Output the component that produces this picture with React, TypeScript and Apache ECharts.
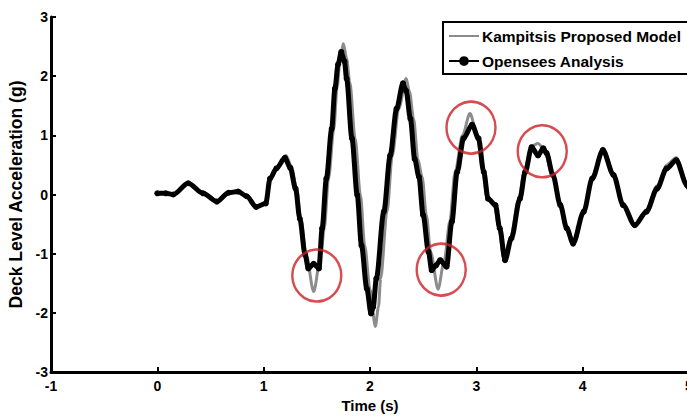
import React, { useEffect, useRef } from "react";
import * as echarts from "echarts";

// Opensees Analysis (black, dotted markers)
const timeOpensees = [
  0, 0.08, 0.15, 0.29, 0.43, 0.56, 0.67, 0.76, 0.84, 0.93, 1.02, 1.06, 1.12, 1.2, 1.25, 1.3, 1.34, 1.39,
  1.42, 1.47, 1.52, 1.55, 1.59, 1.64, 1.67, 1.7, 1.73, 1.76, 1.78, 1.83, 1.88, 1.92, 1.97, 2.01, 2.03,
  2.06, 2.13, 2.19, 2.25, 2.31, 2.34, 2.38, 2.42, 2.46, 2.5, 2.55, 2.58, 2.62, 2.66, 2.72, 2.77, 2.82,
  2.88, 2.96, 3.02, 3.07, 3.11, 3.18, 3.22, 3.27, 3.33, 3.41, 3.46, 3.52, 3.58, 3.63, 3.66, 3.72, 3.79,
  3.85, 3.91, 4.01, 4.09, 4.19, 4.29, 4.38, 4.49, 4.6, 4.7, 4.79, 4.88, 4.98, 5.0,
];
const accelOpensees = [
  0.02, 0.02, 0.0, 0.19, 0.02, -0.12, 0.03, 0.05, -0.03, -0.21, -0.15, 0.27, 0.44, 0.62, 0.45, 0.1, -0.41, -1.02,
  -1.25, -1.17, -1.25, -0.57, 0.27, 1.11, 1.79, 2.2, 2.41, 2.25, 1.96, 0.95, -0.01, -0.86, -1.59, -2.01, -1.9,
  -1.42, -0.29, 0.66, 1.45, 1.88, 1.75, 1.28, 0.6, 0.3, -0.35, -0.97, -1.28, -1.2, -1.11, -1.22, -0.46, 0.38,
  0.95, 1.18, 0.95, 0.38, -0.07, -0.18, -0.57, -1.11, -0.74, -0.07, 0.38, 0.8, 0.66, 0.78, 0.7, 0.33, -0.18,
  -0.57, -0.83, -0.29, 0.27, 0.75, 0.33, -0.18, -0.52, -0.29, 0.1, 0.44, 0.58, 0.16, 0.12,
];

// Kampitsis Proposed Model (gray)
const timeKampitsis = [
  0, 0.08, 0.15, 0.29, 0.43, 0.56, 0.67, 0.76, 0.84, 0.93, 1.02, 1.06, 1.12, 1.21, 1.26, 1.31, 1.35, 1.4,
  1.47, 1.54, 1.57, 1.61, 1.66, 1.69, 1.72, 1.75, 1.78, 1.81, 1.86, 1.91, 1.95, 2.0, 2.05, 2.08, 2.1,
  2.16, 2.21, 2.27, 2.34, 2.37, 2.41, 2.45, 2.49, 2.53, 2.57, 2.64, 2.7, 2.75, 2.8, 2.87, 2.94, 3.01,
  3.06, 3.1, 3.17, 3.21, 3.26, 3.32, 3.4, 3.45, 3.52, 3.58, 3.64, 3.71, 3.79, 3.85, 3.91, 4.01, 4.09,
  4.19, 4.29, 4.38, 4.49, 4.6, 4.7, 4.79, 4.88, 4.98, 5.0,
];
const accelKampitsis = [
  0.03, 0.02, 0.0, 0.2, 0.03, -0.1, 0.04, 0.06, -0.02, -0.2, -0.14, 0.25, 0.45, 0.66, 0.48, 0.1, -0.41, -1.02,
  -1.64, -1.0, -0.57, 0.27, 1.11, 1.8, 2.3, 2.55, 2.3, 1.9, 0.95, -0.01, -0.86, -1.6, -2.23, -1.9, -1.42,
  -0.29, 0.66, 1.45, 1.96, 1.75, 1.28, 0.6, 0.3, -0.35, -0.97, -1.6, -1.1, -0.46, 0.38, 1.0, 1.37, 1.0,
  0.4, -0.05, -0.16, -0.55, -1.08, -0.74, -0.07, 0.4, 0.82, 0.86, 0.76, 0.35, -0.15, -0.55, -0.8, -0.27, 0.3,
  0.78, 0.36, -0.15, -0.5, -0.27, 0.15, 0.5, 0.62, 0.2, 0.16,
];

// Red highlight circles (centres in data units)
const circleTimes = [1.5, 2.67, 2.95, 3.62];
const circleAccels = [-1.37, -1.27, 1.13, 0.73];

const seriesNames = ["Kampitsis Proposed Model", "Opensees Analysis"];

const FONT = "'Liberation Sans', Arial, sans-serif";

export default function App() {
  const ref = useRef<HTMLDivElement>(null);
  useEffect(() => {
    if (!ref.current) return;
    const chart = echarts.init(ref.current, undefined, { renderer: "svg" });
    const kData = timeKampitsis.map((t, i) => [t, accelKampitsis[i]]);
    const oData = timeOpensees.map((t, i) => [t, accelOpensees[i]]);
    const cData = circleTimes.map((t, i) => [t, circleAccels[i]]);
    chart.setOption({
      animation: false,
      backgroundColor: "#ffffff",
      grid: {
        left: 51,
        width: 638,
        top: 17,
        height: 355,
        containLabel: false,
        outerBoundsMode: "none",
      },
      legend: {
        data: [
          { name: seriesNames[0], itemStyle: { opacity: 0 } },
          { name: seriesNames[1], itemStyle: { borderWidth: 0 } },
        ],
        orient: "vertical",
        left: 443,
        top: 22,
        padding: [6, 12, 5, 5],
        itemGap: 9,
        itemWidth: 30,
        itemHeight: 12,
        backgroundColor: "#ffffff",
        borderColor: "#000000",
        borderWidth: 2,
        borderRadius: 0,
        textStyle: { fontFamily: FONT, fontWeight: "bold", fontSize: 15.5, color: "#000", padding: [0, 0, 0, -2] },
      },
      xAxis: {
        type: "value",
        min: -1,
        max: 5,
        interval: 1,
        name: "Time (s)",
        nameLocation: "middle",
        nameGap: 24,
        nameTextStyle: { fontFamily: FONT, fontWeight: "bold", fontSize: 15, color: "#000" },
        axisLine: { show: true, onZero: false, lineStyle: { color: "#000", width: 3 } },
        axisTick: { show: true, inside: true, length: 5, lineStyle: { color: "#000", width: 2 } },
        axisLabel: { fontFamily: FONT, fontWeight: "bold", fontSize: 14, color: "#000", margin: 7 },
        splitLine: { show: false },
      },
      yAxis: {
        type: "value",
        min: -3,
        max: 3,
        interval: 1,
        name: "Deck Level Acceleration (g)",
        nameLocation: "middle",
        nameRotate: 90,
        nameGap: 10,
        nameTextStyle: { fontFamily: FONT, fontWeight: "bold", fontSize: 17.5, color: "#000" },
        axisLine: { show: true, onZero: false, lineStyle: { color: "#000", width: 3 } },
        axisTick: { show: true, inside: true, length: 5, lineStyle: { color: "#000", width: 2 } },
        axisLabel: { fontFamily: FONT, fontWeight: "bold", fontSize: 14, color: "#000", margin: 3 },
        splitLine: { show: false },
      },
      series: [
        {
          name: seriesNames[0],
          type: "line",
          data: kData,
          showSymbol: false,
          symbol: "none",
          smooth: 0.3,
          smoothMonotone: "x",
          lineStyle: { color: "#8c8c8c", width: 3 },
          itemStyle: { color: "#8c8c8c" },
          z: 2,
        },
        {
          name: seriesNames[1],
          type: "line",
          data: oData,
          symbol: "circle",
          symbolSize: 6,
          showSymbol: true,
          smooth: 0.3,
          smoothMonotone: "x",
          lineStyle: { color: "#000000", width: 5 },
          itemStyle: { color: "#000000" },
          z: 3,
        },
        {
          name: "highlight",
          type: "scatter",
          data: cData,
          symbol: "circle",
          symbolSize: [49, 52],
          itemStyle: { color: "rgba(0,0,0,0)", borderColor: "#cc1f24", borderWidth: 2.5 },
          z: 4,
          silent: true,
        },
      ],
    });
    return () => chart.dispose();
  }, []);
  return (
    <div
      ref={ref}
      style={{ position: "fixed", left: 0, top: 0, width: 687, height: 416, background: "#fff" }}
    />
  );
}
